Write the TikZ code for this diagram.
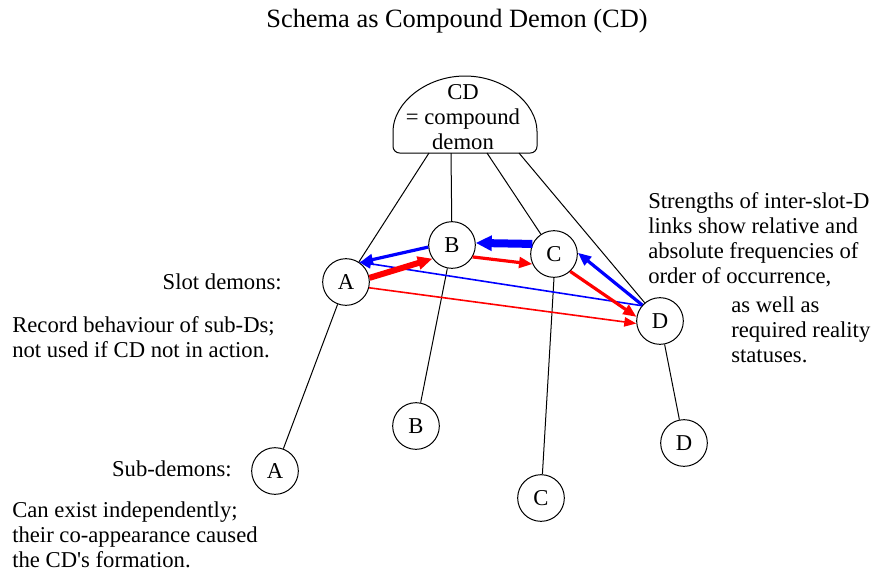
\documentclass[tikz,border=0pt]{standalone}
\usepackage{fontspec}
\setmainfont{Liberation Serif}[Ligatures=TeXOff]
\usetikzlibrary{arrows.meta}
\begin{document}
\begin{tikzpicture}[x=0.75pt,y=-0.75pt,
  every node/.style={font=\fontsize{17}{18.75}\selectfont},
  demon/.style={circle,draw,line width=0.75pt,minimum size=35pt,inner sep=0pt},
  txt/.style={align=left,inner sep=0pt},
  link/.style={line width=0.75pt},
  thinarr/.style={line width=1.2pt,-{Triangle[length=9pt,width=7pt]}},
  medarr/.style={line width=2.4pt,-{Triangle[length=10pt,width=8pt]}},
  thickarr/.style={line width=4.5pt,-{Triangle[length=11pt,width=9.5pt]}}]
\useasboundingbox (0,0) rectangle (871,576);
% title
\node[font=\fontsize{19.8}{22}\selectfont, anchor=base] (title) at (457,27) {Schema as Compound Demon (CD)};
% compound demon dome
\draw[line width=0.75pt, rounded corners=5pt] (393,153) -- (537,153) -- (537,138) arc[start angle=360,end angle=180,x radius=72,y radius=62] -- cycle;
\node[align=center, inner sep=0pt] (cd) at (463,117) {CD\\= compound\\demon};
\coordinate (cdA) at (429,153);
\coordinate (cdB) at (451,153);
\coordinate (cdC) at (487,153);
\coordinate (cdD) at (519,153);
% slot demons
\node[demon] (sA) at (346,282) {A};
\node[demon] (sB) at (452,245) {B};
\node[demon] (sC) at (554,254) {C};
\node[demon] (sD) at (660,321) {D};
% sub-demons
\node[demon] (uA) at (275,471) {A};
\node[demon] (uB) at (416,426) {B};
\node[demon] (uC) at (541,498) {C};
\node[demon] (uD) at (684,443) {D};
% CD to slots
\draw[link] (cdA) -- (sA);
\draw[link] (cdB) -- (sB);
\draw[link] (cdC) -- (sC);
\draw[link] (cdD) -- (sD);
% slots to subs
\draw[link] (sA) -- (uA);
\draw[link] (sB) -- (uB);
\draw[link] (sC.270) -- (uC);
\draw[link] (sD) -- (uD);
% inter-slot links
\draw[thinarr, blue] (sD.140) -- (sA.57);
\draw[thinarr, red] (sA.-14) -- (sD.186);
\draw[medarr, blue] (sB.185) -- (sA.55);
\draw[thickarr, red] (sA.10) -- (sB.215);
\draw[line width=6pt, blue, -{Triangle[length=12pt,width=11pt]}] (sC.155) -- (sB.5);
\draw[medarr, red] (sB.-30) -- (sC.205);
\draw[medarr, blue] (sD.138) -- (sC.3);
\draw[medarr, red] (sC.-47) -- (sD.170);
% texts
\node[anchor=base east, inner sep=0pt] (slotlbl) at (282,289) {Slot demons:};
\node[txt, anchor=north west] (record) at (12,316) {Record behaviour of sub-Ds;\\not used if CD not in action.};
\node[anchor=base east, inner sep=0pt] (sublbl) at (232,476) {Sub-demons:};
\node[txt, anchor=north west] (canexist) at (12,501) {Can exist independently;\\their co-appearance caused\\the CD's formation.};
\node[txt, anchor=north west] (strength) at (648,192) {Strengths of inter-slot-D\\links show relative and\\absolute frequencies of\\order of occurrence,};
\node[txt, anchor=north west] (aswell) at (731,296) {as well as\\required reality\\statuses.};
\end{tikzpicture}
\end{document}
